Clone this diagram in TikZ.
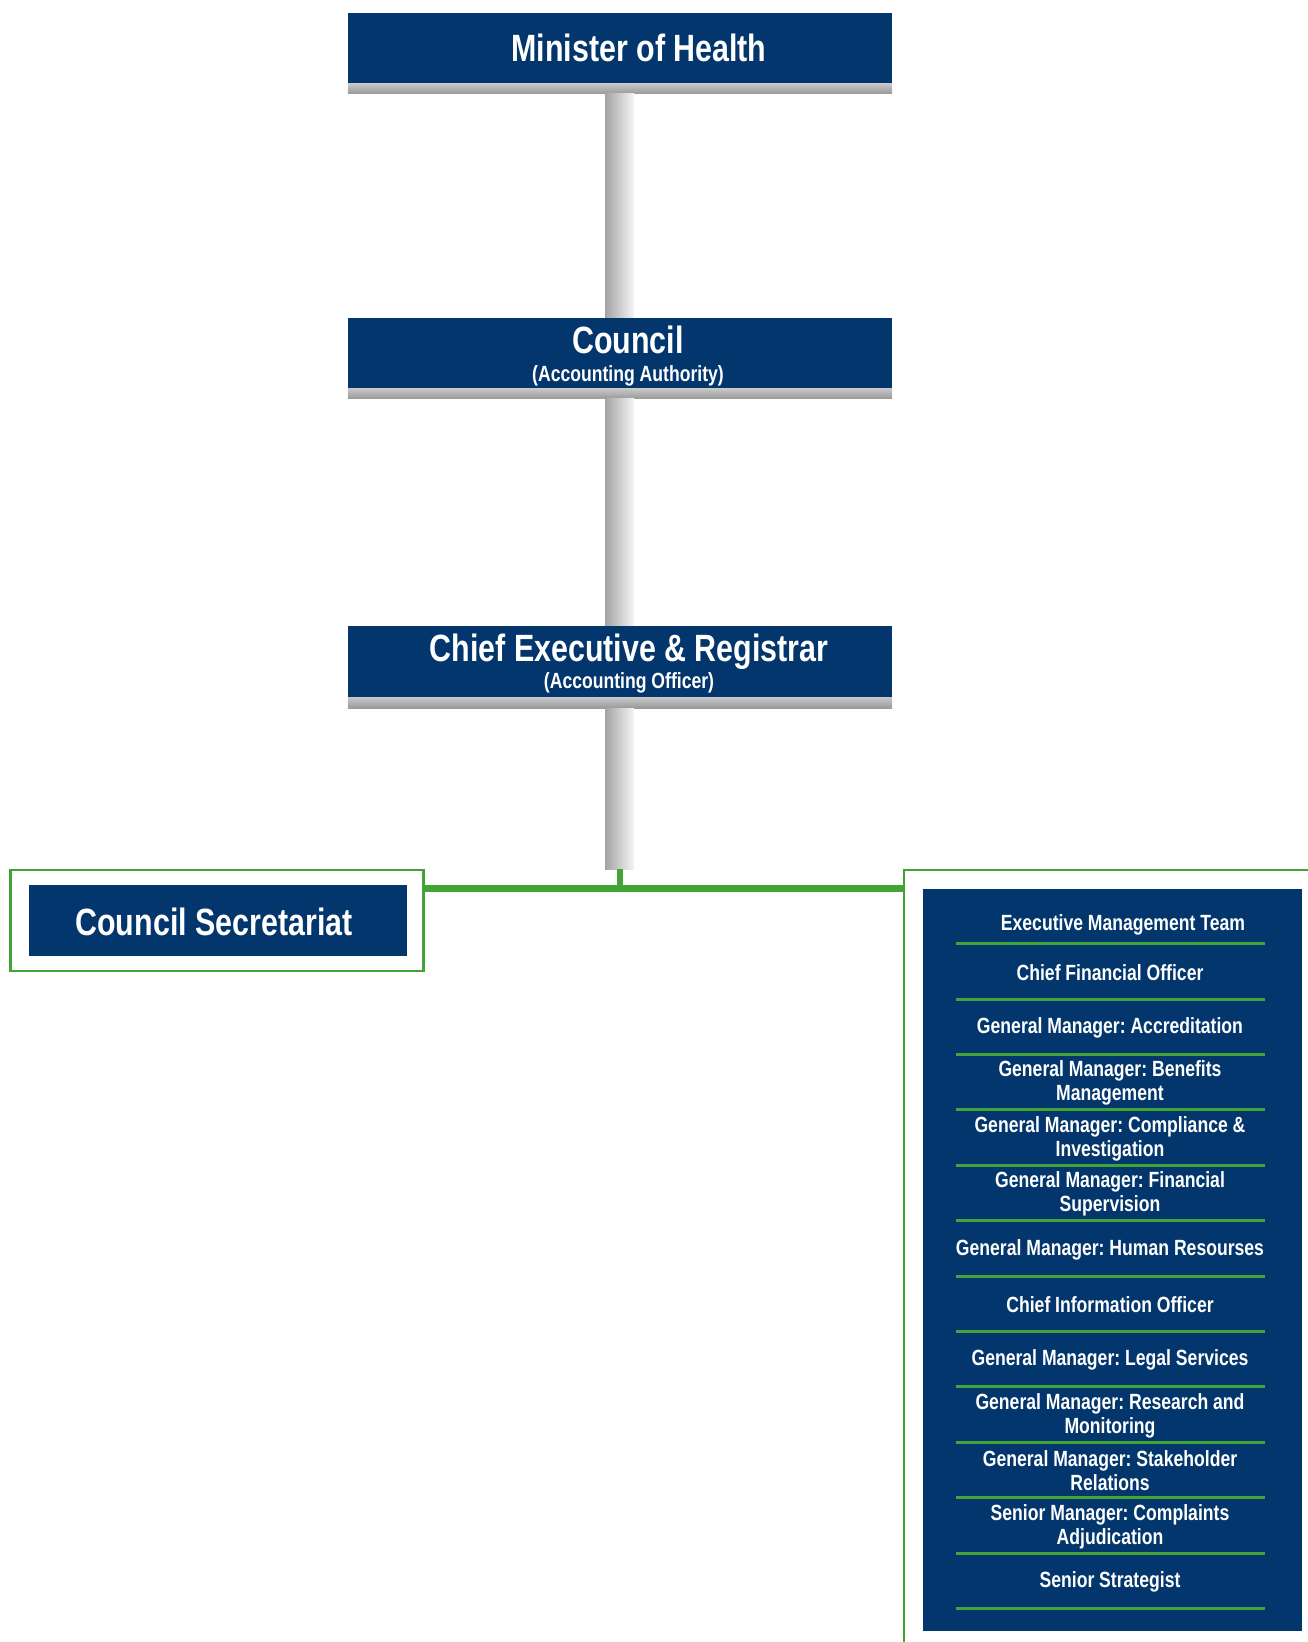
\documentclass[tikz,border=0pt]{standalone}
\usepackage{fontspec}
\newfontfamily\orgfont{Liberation Sans}[FakeStretch=0.8]
\definecolor{navy}{HTML}{03366C}
\definecolor{leaf}{HTML}{41A535}
\frenchspacing

\begin{document}
\begin{tikzpicture}[
    x=1pt,
    y=-1pt,
    every node/.style={font=\orgfont\bfseries, text=white},
    headbox/.style={fill=navy, minimum width=544pt, minimum height=71pt, inner sep=0pt},
    bigtext/.style={font=\orgfont\bfseries\fontsize{38}{42}\selectfont},
    smalltext/.style={font=\orgfont\bfseries\fontsize{22}{24}\selectfont, align=center},
    bar/.style={top color=black!22, bottom color=black!40},
    pipe/.style={left color=black!36, right color=black!4},
    feed/.style={draw=leaf, line width=7pt},
    frame/.style={draw=leaf, line width=2.5pt},
    rule/.style={draw=leaf, line width=3pt}
]
    \useasboundingbox (0,0) rectangle (1308,1642);

    \node[headbox] (minister) at (620,48) {};
    \node[headbox] (council) at (620,353) {};
    \node[headbox] (ceo) at (620,661.5) {};

    \shade[bar] (minister.south west) rectangle ([yshift=-10pt]minister.south east);
    \shade[bar] (council.south west) rectangle ([yshift=-10pt]council.south east);
    \shade[bar] (ceo.south west) rectangle ([yshift=-11pt]ceo.south east);

    \node[bigtext, anchor=base] (ministertext) at (639,61.5) {Minister of Health};
    \node[bigtext, anchor=base] (councilhead) at (628,353.5) {Council};
    \node[smalltext, anchor=base] (councilnote) at (628,381) {(Accounting Authority)};
    \node[bigtext, anchor=base] (ceohead) at (629,661.5) {Chief Executive \& Registrar};
    \node[smalltext, anchor=base] (ceonote) at (629,688) {(Accounting Officer)};

    \coordinate (junction) at (620,869);
    \coordinate (hub) at (620,888);
    \coordinate (teamedge) at (903,888);

    \shade[pipe] ([xshift=-15pt,yshift=-10pt]minister.south) rectangle ([xshift=14pt]council.north);
    \shade[pipe] ([xshift=-15pt,yshift=-10pt]council.south) rectangle ([xshift=14pt]ceo.north);
    \shade[pipe] ([xshift=-15pt,yshift=-11pt]ceo.south) rectangle ([xshift=14pt]junction);

    \node[frame, minimum width=413pt, minimum height=101pt, inner sep=0pt] (secframe) at (217,920.5) {};
    \node[fill=navy, minimum width=378pt, minimum height=71pt, inner sep=0pt] (secretariat) at (218,920.5) {};
    \node[bigtext, anchor=base] (sectext) at (214,935) {Council Secretariat};

    \draw[feed, line width=6pt] (junction) -- (hub);
    \draw[feed] (secframe.east |- hub) -- (teamedge);

    \draw[frame] (904,1650) |- (1316,870);
    \node[fill=navy, minimum width=379pt, minimum height=742pt, inner sep=0pt] (teampanel) at (1112.5,1260) {};

    \foreach \k in {0,...,12}
        \draw[rule] (956,943.6+55.4*\k) -- (1265,943.6+55.4*\k);

    \node[smalltext] (role0) at (1123,925) {Executive Management Team};
    \foreach \role [count=\k from 1] in {
        {Chief Financial Officer},
        {General Manager: Accreditation},
        {General Manager: Benefits\\Management},
        {General Manager: Compliance \&\\Investigation},
        {General Manager: Financial\\Supervision},
        {General Manager: Human Resourses},
        {Chief Information Officer},
        {General Manager: Legal Services},
        {General Manager: Research and\\Monitoring},
        {General Manager: Stakeholder\\Relations},
        {Senior Manager: Complaints\\Adjudication},
        {Senior Strategist}}
        \node[smalltext] (role\k) at (1110,917+55.4*\k) {\role};

\end{tikzpicture}
\end{document}
